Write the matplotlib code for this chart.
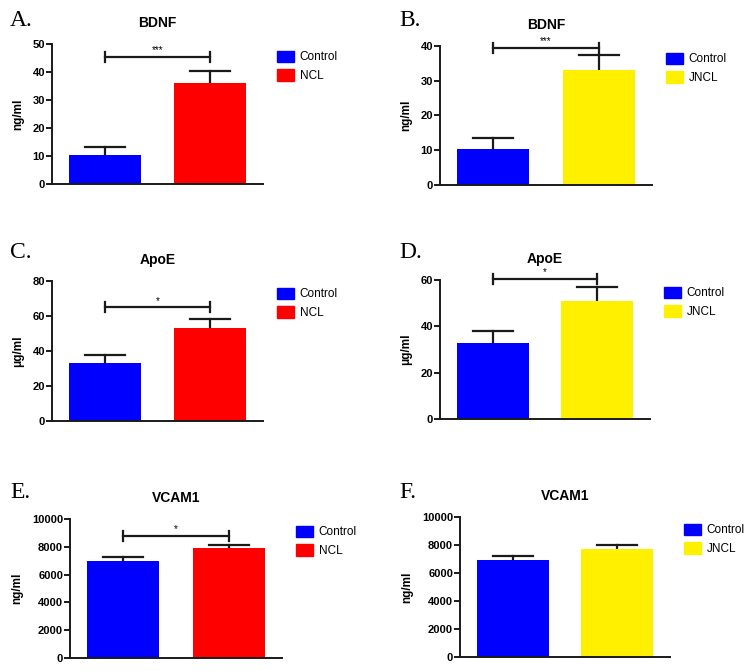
import matplotlib
matplotlib.use("Agg")
import matplotlib.pyplot as plt
from matplotlib.patches import Patch

# Данные
letters = ["A.", "B.", "C.", "D.", "E.", "F."]
titles = ["BDNF", "BDNF", "ApoE", "ApoE", "VCAM1", "VCAM1"]
ylabels = ["ng/ml", "ng/ml", "\u03bcg/ml", "\u03bcg/ml", "ng/ml", "ng/ml"]
groups = ["NCL", "JNCL", "NCL", "JNCL", "NCL", "JNCL"]
ctrl_mean = [10.5, 10.5, 33, 33, 6950, 6950]
ctrl_err = [2.8, 2.9, 4.8, 4.8, 300, 300]
dis_mean = [36, 33.2, 53, 50.8, 7900, 7700]
dis_err = [4.3, 4.1, 5.2, 6.2, 250, 300]
sig_text = ["***", "***", "*", "*", "*", ""]
sig_y = [45.5, 39.5, 65, 60.5, 8800, None]
ymax = [50, 40, 80, 60, 10000, 10000]
ystep = [10, 10, 20, 20, 2000, 2000]

W, H = 754, 671
# рамки осей в пикселях: left, right, bottom, top
boxes = [(52, 263, 184, 44), (440, 652, 185, 46),
         (52, 263, 421, 281), (440, 650, 419, 280),
         (70, 282, 658, 519), (460, 670, 657, 517)]
# позиции букв панелей (пиксели)
letter_xy = [(10, 20), (399, 20), (10, 253), (399, 253), (10, 492), (399, 493)]
colors = {"NCL": "#FF0000", "JNCL": "#FFF000"}
blue = "#0000FF"
dark = "#1a1a1a"

fig = plt.figure(figsize=(W / 100, H / 100), dpi=100)

for i in range(6):
    l, r, b, t = boxes[i]
    ax = fig.add_axes([l / W, 1 - b / H, (r - l) / W, (b - t) / H])
    c2 = colors[groups[i]]
    means = [ctrl_mean[i], dis_mean[i]]
    errs = [ctrl_err[i], dis_err[i]]
    ax.bar([0, 1], means, width=0.686, color=[blue, c2], zorder=2)
    # только верхние усы
    for xx, m, e in zip([0, 1], means, errs):
        ax.plot([xx, xx], [m, m + e], color=dark, lw=1.6, zorder=1)
        ax.plot([xx - 0.19, xx + 0.19], [m + e, m + e], color=dark, lw=1.6, zorder=3)
    if sig_y[i] is not None:
        ax.plot([0, 1], [sig_y[i], sig_y[i]], color=dark, lw=1.6, clip_on=False)
        d = ymax[i] * 0.035
        for xx in [0, 1]:
            ax.plot([xx, xx], [sig_y[i] - d, sig_y[i] + d], color=dark, lw=1.6, clip_on=False)
        ax.text(0.5, sig_y[i] + ymax[i] * 0.01, sig_text[i], ha="center", va="bottom",
                fontsize=7, family="Liberation Sans")
    ax.set_xlim(-0.505, 1.505)
    ax.set_ylim(0, ymax[i])
    ax.set_yticks(range(0, ymax[i] + 1, ystep[i]))
    ax.set_xticks([])
    for s in ["top", "right"]:
        ax.spines[s].set_visible(False)
    for s in ["left", "bottom"]:
        ax.spines[s].set_linewidth(1.4)
        ax.spines[s].set_color(dark)
    ax.tick_params(axis="y", length=4, width=1.4, color=dark, pad=1)
    for lab in ax.get_yticklabels():
        lab.set_fontfamily("Liberation Sans")
        lab.set_fontweight("bold")
        lab.set_fontsize(8)
    ax.set_ylabel(ylabels[i], fontsize=8.5, fontweight="bold", family="Liberation Sans", labelpad=6)
    ax.set_title(titles[i], fontsize=10, fontweight="bold", family="Liberation Sans", pad=12)
    lx, ly = letter_xy[i]
    fig.text(lx / W, 1 - ly / H, letters[i], fontsize=17,
             family="Liberation Serif", ha="left", va="center")
    handles = [Patch(color=blue, label="Control"), Patch(color=c2, label=groups[i])]
    ax.legend(handles=handles, loc="upper left", frameon=False,
              bbox_to_anchor=((r + 9) / W, 1 - (t + 2) / H), bbox_transform=fig.transFigure,
              prop={"family": "Liberation Sans", "size": 8.5}, handlelength=1.45,
              handleheight=1.1, handletextpad=0.5, labelspacing=0.5, borderaxespad=0)

fig.savefig("out.png", dpi=100)
